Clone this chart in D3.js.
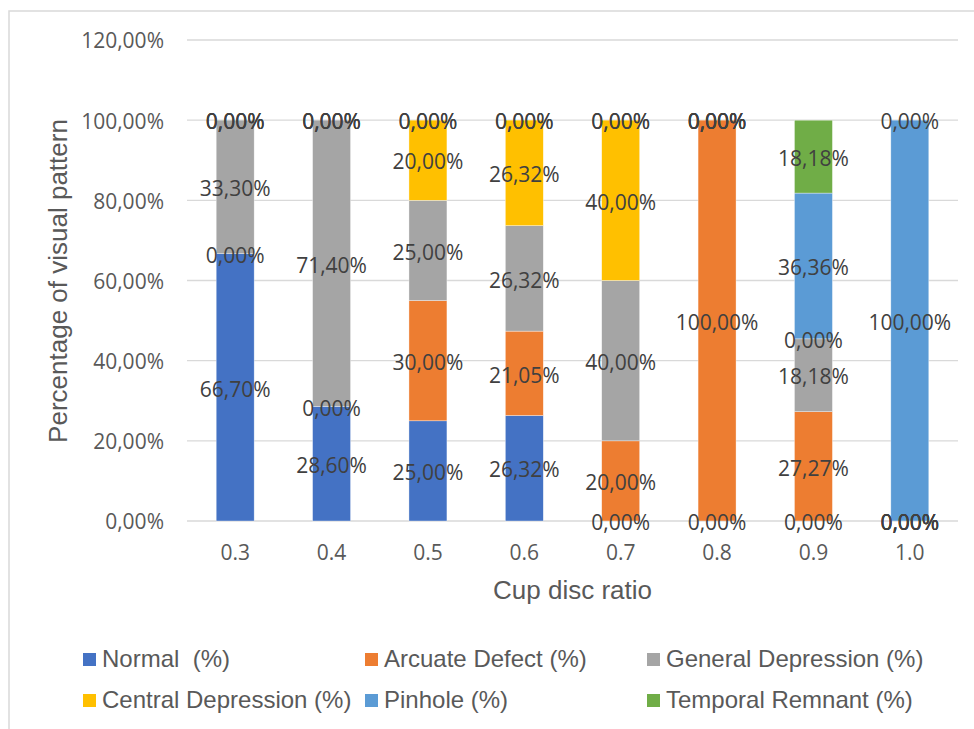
<!DOCTYPE html>
<html>
<head>
<meta charset="utf-8">
<script src="https://cdn.jsdelivr.net/npm/d3@7"></script>
<style>
  html, body { margin: 0; padding: 0; background: #fff; }
  svg { display: block; }
</style>
</head>
<body>
<svg id="chart" width="974" height="729"></svg>
<script>
// Cup disc ratio groups and the share of each visual field pattern (%)
const categories = ["0.3", "0.4", "0.5", "0.6", "0.7", "0.8", "0.9", "1.0"];
const normal    = [66.70, 28.60, 25.00, 26.32,  0.00,   0.00,  0.00,   0.00];
const arcuate   = [ 0.00,  0.00, 30.00, 21.05, 20.00, 100.00, 27.27,   0.00];
const general   = [33.30, 71.40, 25.00, 26.32, 40.00,   0.00, 18.18,   0.00];
const central   = [ 0.00,  0.00, 20.00, 26.32, 40.00,   0.00,  0.00,   0.00];
const pinhole   = [ 0.00,  0.00,  0.00,  0.00,  0.00,   0.00, 36.36, 100.00];
const temporal  = [ 0.00,  0.00,  0.00,  0.00,  0.00,   0.00, 18.18,   0.00];

const seriesNames  = ["Normal  (%)", "Arcuate Defect (%)", "General Depression (%)",
                      "Central Depression (%)", "Pinhole (%)", "Temporal Remnant (%)"];
const seriesColors = ["#4472C4", "#ED7D31", "#A5A5A5", "#FFC000", "#5B9BD5", "#70AD47"];
const yTicks = [0, 20, 40, 60, 80, 100, 120];

const seriesValues = [normal, arcuate, general, central, pinhole, temporal];
const keys = seriesNames.map((_, i) => "s" + i);
const rows = categories.map((c, j) => {
  const r = { cat: c };
  keys.forEach((k, i) => { r[k] = seriesValues[i][j]; });
  return r;
});

const locale = d3.formatLocale({ decimal: ",", thousands: ".", grouping: [3], currency: ["", "€"] });
const pct = v => locale.format(".2%")(v / 100);

const svg = d3.select("#chart");
const numFont = "'Open Sans', 'Noto Sans', sans-serif";
const txtFont = "'Liberation Sans', Arial, sans-serif";

// chart area frame
svg.append("path")
  .attr("d", "M9,729 V11 H974")
  .attr("fill", "none").attr("stroke", "#d9d9d9").attr("stroke-width", 1.5);

const x = d3.scaleBand().domain(categories).range([187, 958])
  .paddingInner(0.606).paddingOuter(0.303);
const y = d3.scaleLinear().domain([0, 120]).range([521, 40]);

// gridlines
svg.append("g").selectAll("line").data(yTicks).join("line")
  .attr("x1", 187).attr("x2", 958)
  .attr("y1", d => y(d)).attr("y2", d => y(d))
  .attr("stroke", "#d9d9d9").attr("stroke-width", 1.3);

// y axis labels
const yAxis = svg.append("g").attr("transform", "translate(164,0)")
  .call(d3.axisLeft(y).tickValues(yTicks).tickSize(0).tickPadding(0).tickFormat(pct));
yAxis.select(".domain").remove();
yAxis.selectAll("text")
  .attr("font-family", numFont).attr("font-size", 21).attr("fill", "#595959")
  .attr("dy", "0.38em");

// x axis labels
const xAxis = svg.append("g").attr("transform", "translate(0,521)")
  .call(d3.axisBottom(x).tickSize(0).tickPadding(0));
xAxis.select(".domain").remove();
xAxis.selectAll("text")
  .attr("font-family", numFont).attr("font-size", 21).attr("fill", "#595959")
  .attr("y", 39).attr("dy", 0);

// stacked bars
const stacked = d3.stack().keys(keys)(rows);
const layers = svg.append("g").selectAll("g").data(stacked).join("g")
  .attr("fill", (d, i) => seriesColors[i]);
layers.selectAll("rect").data(d => d).join("rect")
  .attr("x", d => x(d.data.cat))
  .attr("width", x.bandwidth())
  .attr("y", d => y(d[1]))
  .attr("height", d => y(d[0]) - y(d[1]))
  .attr("stroke", "#ffffff").attr("stroke-width", 0.6).attr("stroke-opacity", 0.6);

// data labels, one per segment, centred in the segment
const labels = svg.append("g");
stacked.forEach(layer => {
  labels.selectAll(null).data(layer).join("text")
    .attr("x", d => x(d.data.cat) + x.bandwidth() / 2)
    .attr("y", d => y((d[0] + d[1]) / 2))
    .attr("dy", "0.44em")
    .attr("text-anchor", "middle")
    .attr("font-family", numFont).attr("font-size", 21).attr("fill", "#404040")
    .text(d => pct(d.data[layer.key]));
});

// axis titles
svg.append("text")
  .attr("transform", "translate(67,281) rotate(-90)")
  .attr("text-anchor", "middle")
  .attr("font-family", txtFont).attr("font-size", 26).attr("fill", "#595959")
  .text("Percentage of visual pattern");
svg.append("text")
  .attr("x", 572.5).attr("y", 599)
  .attr("text-anchor", "middle")
  .attr("font-family", txtFont).attr("font-size", 26).attr("fill", "#595959")
  .text("Cup disc ratio");

// legend: three columns, two rows
const legendX = [83, 365, 647];
const legendY = [667, 708];
const legend = svg.append("g").selectAll("g").data(seriesNames).join("g")
  .attr("transform", (d, i) => `translate(${legendX[i % 3]},${legendY[Math.floor(i / 3)]})`);
legend.append("rect")
  .attr("x", 0).attr("y", -14).attr("width", 13).attr("height", 13)
  .attr("fill", (d, i) => seriesColors[i]);
legend.append("text")
  .attr("x", 19).attr("y", 0)
  .attr("font-family", txtFont).attr("font-size", 24).attr("fill", "#595959")
  .attr("xml:space", "preserve").style("white-space", "pre")
  .text(d => d);
</script>
</body>
</html>
